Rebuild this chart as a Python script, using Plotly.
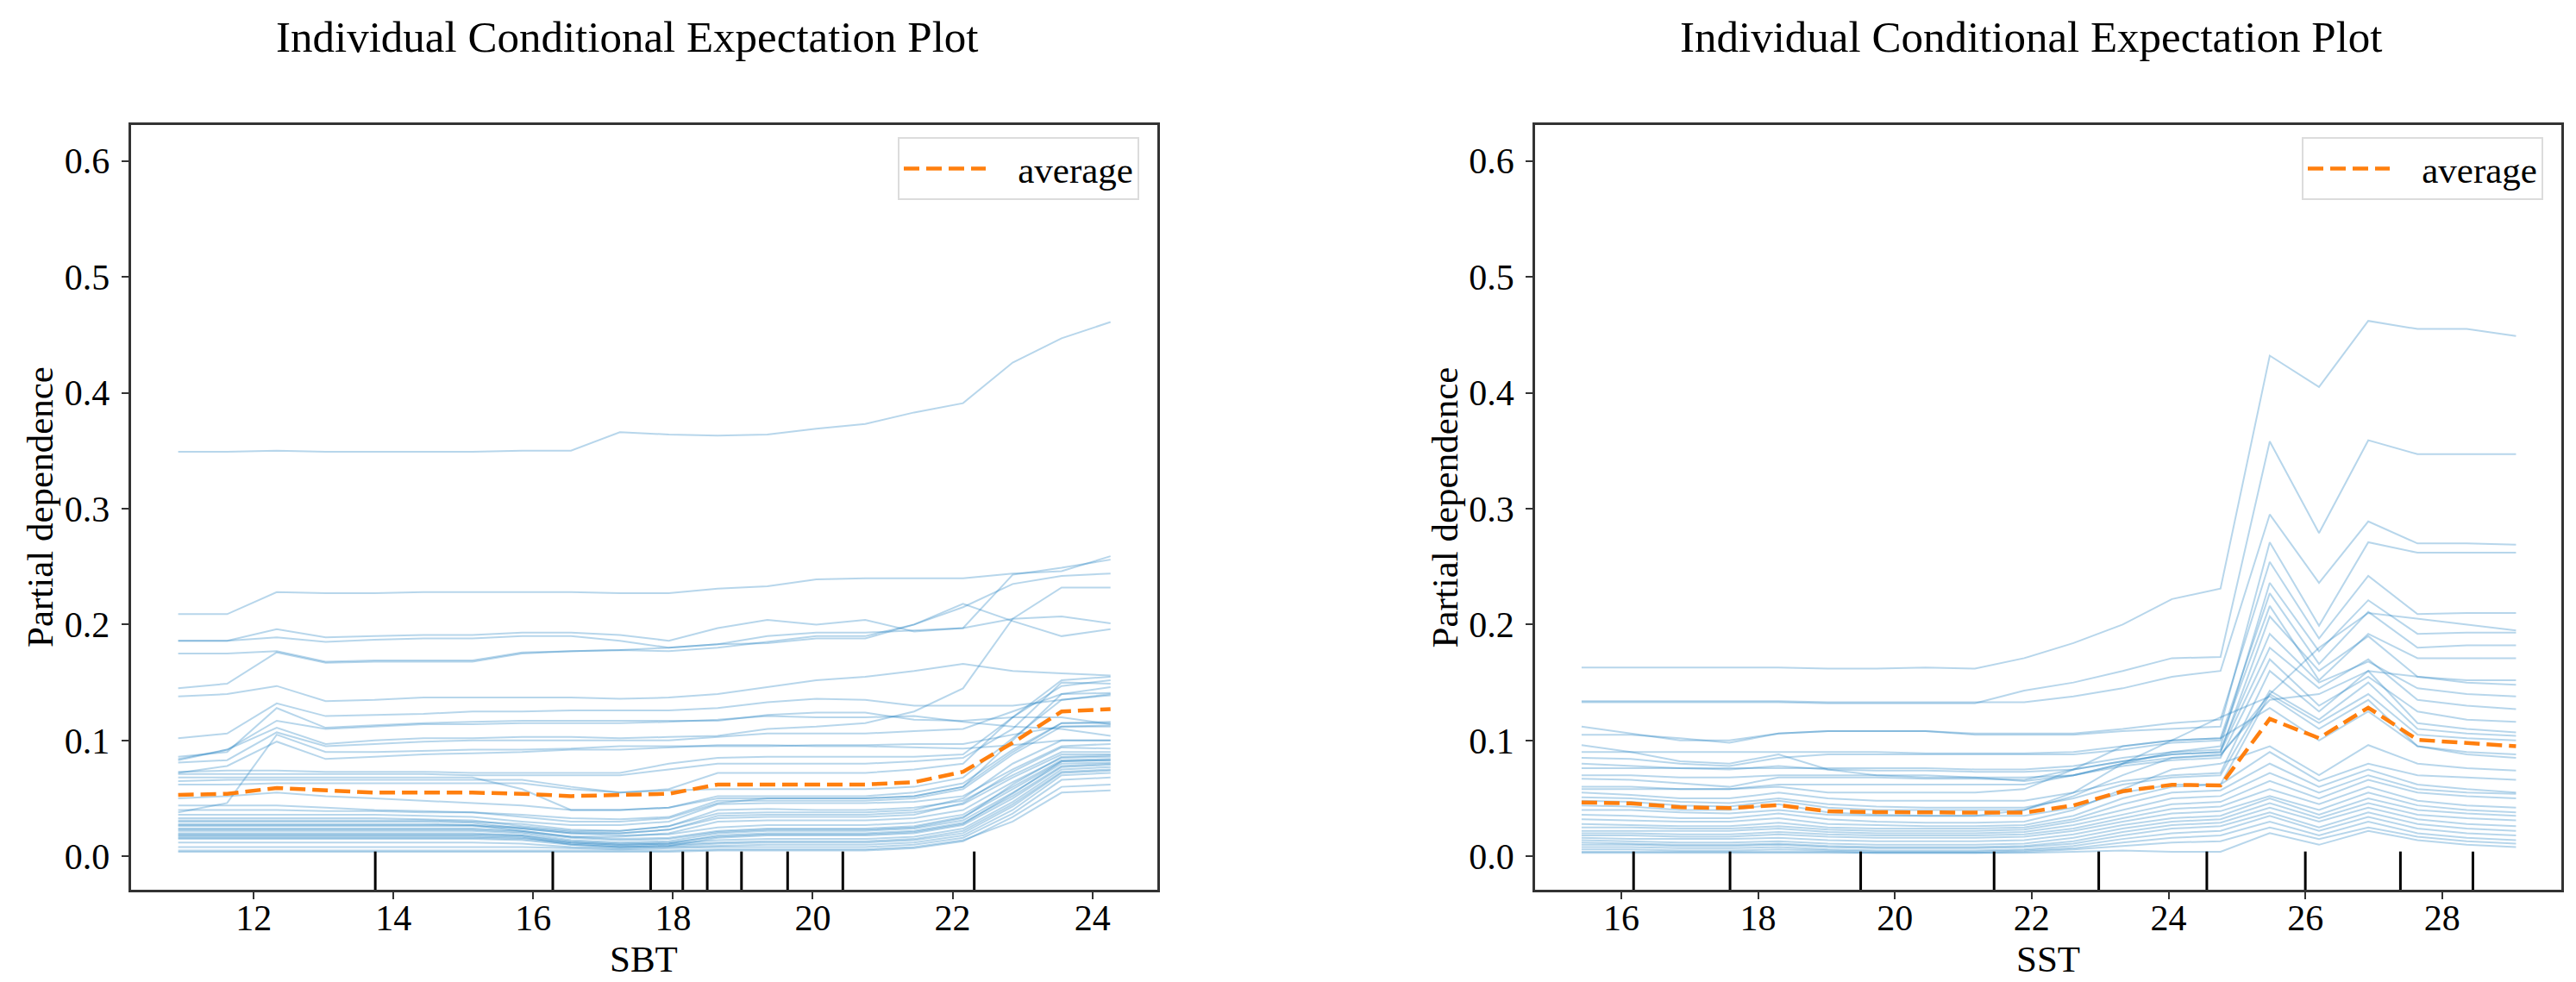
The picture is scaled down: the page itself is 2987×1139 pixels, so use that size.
import plotly.graph_objects as go

# ---------------- data ----------------
sbt_grid = [10.92, 11.62, 12.33, 13.03, 13.73, 14.43, 15.13, 15.84, 16.54, 17.24,
            17.94, 18.64, 19.35, 20.05, 20.75, 21.45, 22.15, 22.86, 23.56, 24.26]

sbt_average = [0.053, 0.054, 0.059, 0.057, 0.055, 0.055, 0.055, 0.054, 0.052, 0.053,
               0.054, 0.062, 0.062, 0.062, 0.062, 0.064, 0.073, 0.098, 0.125, 0.127]

sbt_ice_top = [
    [0.349, 0.349, 0.350, 0.349, 0.349, 0.349, 0.349, 0.350, 0.350, 0.366, 0.364, 0.363, 0.364, 0.369, 0.373, 0.383, 0.391, 0.426, 0.447, 0.461],
    [0.209, 0.209, 0.228, 0.227, 0.227, 0.228, 0.228, 0.228, 0.228, 0.227, 0.227, 0.231, 0.233, 0.239, 0.240, 0.240, 0.240, 0.244, 0.246, 0.259],
    [0.186, 0.186, 0.196, 0.189, 0.190, 0.191, 0.191, 0.193, 0.193, 0.191, 0.186, 0.197, 0.204, 0.200, 0.204, 0.194, 0.197, 0.205, 0.207, 0.201],
    [0.186, 0.186, 0.189, 0.185, 0.187, 0.188, 0.188, 0.190, 0.190, 0.186, 0.180, 0.183, 0.184, 0.188, 0.188, 0.200, 0.218, 0.203, 0.190, 0.196],
    [0.175, 0.175, 0.177, 0.168, 0.169, 0.169, 0.169, 0.176, 0.177, 0.178, 0.180, 0.183, 0.190, 0.193, 0.193, 0.195, 0.197, 0.243, 0.249, 0.256],
    [0.145, 0.149, 0.176, 0.167, 0.168, 0.168, 0.168, 0.175, 0.177, 0.178, 0.177, 0.180, 0.185, 0.190, 0.190, 0.200, 0.215, 0.235, 0.242, 0.244],
]

sbt_ice_mid = [
    [0.102, 0.106, 0.132, 0.121, 0.122, 0.123, 0.125, 0.125, 0.126, 0.126, 0.126, 0.128, 0.133, 0.136, 0.135, 0.130, 0.130, 0.130, 0.135, 0.140],
    [0.086, 0.090, 0.128, 0.111, 0.113, 0.115, 0.116, 0.117, 0.117, 0.117, 0.117, 0.117, 0.122, 0.124, 0.124, 0.118, 0.117, 0.120, 0.120, 0.114],
    [0.084, 0.092, 0.117, 0.110, 0.112, 0.114, 0.114, 0.115, 0.115, 0.115, 0.116, 0.118, 0.121, 0.120, 0.120, 0.121, 0.116, 0.112, 0.110, 0.104],
    [0.083, 0.092, 0.111, 0.097, 0.100, 0.102, 0.102, 0.103, 0.103, 0.102, 0.103, 0.104, 0.110, 0.112, 0.115, 0.125, 0.145, 0.205, 0.232, 0.232],
    [0.081, 0.083, 0.107, 0.095, 0.097, 0.099, 0.100, 0.100, 0.100, 0.100, 0.100, 0.103, 0.106, 0.106, 0.106, 0.108, 0.110, 0.125, 0.140, 0.146],
    [0.072, 0.078, 0.099, 0.084, 0.086, 0.088, 0.089, 0.090, 0.092, 0.092, 0.094, 0.096, 0.096, 0.095, 0.095, 0.094, 0.093, 0.096, 0.100, 0.100],
    [0.138, 0.140, 0.147, 0.134, 0.135, 0.137, 0.137, 0.137, 0.137, 0.136, 0.137, 0.140, 0.146, 0.152, 0.155, 0.160, 0.166, 0.160, 0.158, 0.156],
    [0.038, 0.046, 0.105, 0.090, 0.090, 0.091, 0.092, 0.092, 0.093, 0.095, 0.095, 0.095, 0.095, 0.096, 0.096, 0.097, 0.097, 0.105, 0.112, 0.112],
    [0.050, 0.052, 0.055, 0.052, 0.050, 0.048, 0.046, 0.044, 0.040, 0.040, 0.042, 0.052, 0.052, 0.052, 0.052, 0.055, 0.063, 0.092, 0.115, 0.116],
    [0.065, 0.066, 0.066, 0.066, 0.066, 0.066, 0.066, 0.066, 0.060, 0.055, 0.057, 0.058, 0.058, 0.058, 0.058, 0.060, 0.068, 0.102, 0.135, 0.139],
    [0.068, 0.068, 0.068, 0.068, 0.068, 0.068, 0.068, 0.058, 0.040, 0.040, 0.042, 0.050, 0.050, 0.050, 0.050, 0.052, 0.060, 0.100, 0.140, 0.141],
    [0.071, 0.071, 0.071, 0.071, 0.071, 0.071, 0.070, 0.070, 0.070, 0.070, 0.075, 0.080, 0.080, 0.080, 0.080, 0.082, 0.085, 0.110, 0.150, 0.149],
    [0.062, 0.062, 0.063, 0.063, 0.063, 0.063, 0.063, 0.063, 0.058, 0.055, 0.058, 0.072, 0.072, 0.072, 0.072, 0.075, 0.080, 0.120, 0.152, 0.155],
    [0.073, 0.074, 0.074, 0.073, 0.073, 0.073, 0.072, 0.072, 0.072, 0.072, 0.080, 0.085, 0.086, 0.086, 0.086, 0.086, 0.088, 0.120, 0.147, 0.152],
]

sbt_ice_low = [
    [0.036, 0.036, 0.036, 0.036, 0.036, 0.035, 0.034, 0.030, 0.027, 0.027, 0.030, 0.045, 0.046, 0.046, 0.046, 0.047, 0.052, 0.075, 0.095, 0.097],
    [0.033, 0.033, 0.033, 0.033, 0.033, 0.032, 0.031, 0.026, 0.022, 0.022, 0.026, 0.040, 0.041, 0.040, 0.040, 0.042, 0.048, 0.070, 0.090, 0.090],
    [0.030, 0.030, 0.030, 0.030, 0.030, 0.030, 0.029, 0.024, 0.020, 0.020, 0.023, 0.035, 0.036, 0.036, 0.036, 0.038, 0.045, 0.068, 0.088, 0.088],
    [0.028, 0.028, 0.028, 0.028, 0.028, 0.028, 0.027, 0.022, 0.017, 0.017, 0.020, 0.030, 0.031, 0.031, 0.031, 0.033, 0.040, 0.064, 0.085, 0.086],
    [0.026, 0.026, 0.026, 0.026, 0.026, 0.026, 0.026, 0.024, 0.020, 0.018, 0.019, 0.025, 0.027, 0.027, 0.027, 0.029, 0.036, 0.060, 0.083, 0.084],
    [0.024, 0.024, 0.024, 0.024, 0.024, 0.024, 0.024, 0.022, 0.017, 0.015, 0.016, 0.022, 0.024, 0.024, 0.024, 0.026, 0.034, 0.058, 0.082, 0.083],
    [0.022, 0.022, 0.022, 0.022, 0.022, 0.022, 0.022, 0.020, 0.014, 0.012, 0.013, 0.020, 0.022, 0.022, 0.022, 0.024, 0.031, 0.055, 0.080, 0.081],
    [0.020, 0.020, 0.020, 0.020, 0.020, 0.020, 0.020, 0.018, 0.012, 0.010, 0.011, 0.018, 0.020, 0.020, 0.020, 0.022, 0.029, 0.052, 0.078, 0.080],
    [0.018, 0.018, 0.018, 0.018, 0.018, 0.018, 0.018, 0.017, 0.010, 0.008, 0.009, 0.016, 0.018, 0.018, 0.018, 0.020, 0.027, 0.050, 0.077, 0.079],
    [0.017, 0.017, 0.017, 0.017, 0.017, 0.017, 0.017, 0.016, 0.012, 0.010, 0.011, 0.014, 0.015, 0.015, 0.015, 0.017, 0.024, 0.047, 0.075, 0.077],
    [0.016, 0.016, 0.016, 0.016, 0.016, 0.016, 0.016, 0.015, 0.011, 0.009, 0.010, 0.012, 0.013, 0.013, 0.013, 0.015, 0.022, 0.045, 0.073, 0.075],
    [0.015, 0.015, 0.015, 0.015, 0.015, 0.015, 0.015, 0.014, 0.010, 0.008, 0.009, 0.011, 0.012, 0.012, 0.012, 0.014, 0.020, 0.043, 0.072, 0.074],
    [0.012, 0.012, 0.012, 0.012, 0.012, 0.012, 0.012, 0.011, 0.008, 0.007, 0.008, 0.009, 0.010, 0.010, 0.010, 0.012, 0.018, 0.040, 0.070, 0.072],
    [0.008, 0.008, 0.008, 0.008, 0.008, 0.008, 0.008, 0.008, 0.007, 0.006, 0.007, 0.008, 0.008, 0.008, 0.008, 0.010, 0.016, 0.037, 0.066, 0.068],
    [0.005, 0.005, 0.005, 0.005, 0.005, 0.005, 0.005, 0.005, 0.005, 0.005, 0.005, 0.006, 0.006, 0.006, 0.006, 0.008, 0.014, 0.030, 0.055, 0.057],
    [0.004, 0.004, 0.004, 0.004, 0.004, 0.004, 0.004, 0.004, 0.004, 0.004, 0.004, 0.005, 0.005, 0.005, 0.005, 0.007, 0.013, 0.034, 0.060, 0.062],
    [0.040, 0.040, 0.040, 0.039, 0.039, 0.038, 0.038, 0.036, 0.033, 0.032, 0.034, 0.048, 0.048, 0.048, 0.048, 0.050, 0.058, 0.088, 0.112, 0.113],
    [0.044, 0.044, 0.044, 0.042, 0.040, 0.039, 0.038, 0.034, 0.030, 0.030, 0.033, 0.046, 0.050, 0.050, 0.050, 0.052, 0.060, 0.090, 0.115, 0.115],
    [0.031, 0.031, 0.031, 0.031, 0.031, 0.031, 0.030, 0.028, 0.023, 0.022, 0.026, 0.037, 0.038, 0.038, 0.038, 0.040, 0.050, 0.080, 0.100, 0.100],
    [0.027, 0.027, 0.027, 0.027, 0.027, 0.027, 0.027, 0.025, 0.021, 0.020, 0.023, 0.033, 0.034, 0.034, 0.034, 0.036, 0.046, 0.073, 0.094, 0.093],
    [0.023, 0.023, 0.023, 0.023, 0.023, 0.023, 0.023, 0.021, 0.016, 0.014, 0.015, 0.021, 0.023, 0.023, 0.023, 0.025, 0.033, 0.062, 0.086, 0.087],
    [0.019, 0.019, 0.019, 0.019, 0.019, 0.019, 0.019, 0.018, 0.013, 0.011, 0.012, 0.017, 0.019, 0.019, 0.019, 0.021, 0.028, 0.054, 0.082, 0.083],
]

sbt_deciles = [13.74, 16.28, 17.68, 18.14, 18.49, 18.98, 19.64, 20.43, 22.31]

sst_grid = [15.42, 16.14, 16.86, 17.58, 18.30, 19.02, 19.73, 20.45, 21.17, 21.89,
            22.61, 23.33, 24.05, 24.76, 25.48, 26.20, 26.92, 27.64, 28.36, 29.08]

sst_average = [0.0465, 0.0457, 0.0424, 0.0416, 0.0443, 0.0388, 0.0382, 0.0377, 0.0377, 0.0377,
               0.0440, 0.0562, 0.0618, 0.0612, 0.1186, 0.1020, 0.1283, 0.1006, 0.0978, 0.0950]

sst_ice_top = [
    [0.163, 0.163, 0.163, 0.163, 0.163, 0.162, 0.162, 0.163, 0.162, 0.171, 0.184, 0.200, 0.222, 0.231, 0.432, 0.405, 0.462, 0.455, 0.455, 0.449],
    [0.133, 0.133, 0.133, 0.133, 0.133, 0.132, 0.132, 0.132, 0.132, 0.143, 0.150, 0.160, 0.171, 0.172, 0.358, 0.279, 0.359, 0.347, 0.347, 0.347],
    [0.134, 0.134, 0.134, 0.134, 0.134, 0.133, 0.133, 0.133, 0.133, 0.133, 0.138, 0.145, 0.155, 0.160, 0.295, 0.236, 0.289, 0.270, 0.270, 0.269],
    [0.112, 0.106, 0.100, 0.100, 0.106, 0.108, 0.108, 0.108, 0.105, 0.105, 0.105, 0.108, 0.110, 0.112, 0.271, 0.199, 0.271, 0.262, 0.262, 0.262],
    [0.105, 0.105, 0.102, 0.098, 0.106, 0.108, 0.108, 0.108, 0.106, 0.106, 0.106, 0.110, 0.115, 0.118, 0.254, 0.188, 0.242, 0.209, 0.210, 0.210],
]

sst_ice_mid = [
    [0.096, 0.090, 0.082, 0.080, 0.088, 0.075, 0.070, 0.068, 0.068, 0.068, 0.070, 0.080, 0.090, 0.095, 0.236, 0.177, 0.221, 0.192, 0.193, 0.193],
    [0.090, 0.090, 0.090, 0.090, 0.090, 0.090, 0.090, 0.089, 0.089, 0.089, 0.090, 0.095, 0.100, 0.102, 0.227, 0.166, 0.211, 0.180, 0.182, 0.182],
    [0.085, 0.084, 0.080, 0.078, 0.085, 0.088, 0.088, 0.088, 0.088, 0.088, 0.088, 0.092, 0.098, 0.100, 0.216, 0.152, 0.192, 0.171, 0.171, 0.171],
    [0.080, 0.078, 0.076, 0.075, 0.078, 0.075, 0.074, 0.074, 0.073, 0.073, 0.075, 0.082, 0.088, 0.090, 0.207, 0.160, 0.190, 0.155, 0.152, 0.152],
    [0.076, 0.076, 0.076, 0.076, 0.076, 0.076, 0.076, 0.076, 0.075, 0.075, 0.078, 0.085, 0.090, 0.092, 0.192, 0.150, 0.168, 0.145, 0.140, 0.138],
    [0.067, 0.066, 0.063, 0.060, 0.068, 0.068, 0.068, 0.067, 0.067, 0.066, 0.075, 0.082, 0.088, 0.090, 0.180, 0.145, 0.170, 0.135, 0.130, 0.127],
    [0.060, 0.060, 0.058, 0.058, 0.062, 0.062, 0.062, 0.062, 0.062, 0.062, 0.070, 0.078, 0.083, 0.085, 0.170, 0.130, 0.155, 0.125, 0.118, 0.116],
    [0.055, 0.053, 0.050, 0.050, 0.055, 0.050, 0.048, 0.048, 0.048, 0.048, 0.055, 0.065, 0.070, 0.072, 0.160, 0.125, 0.160, 0.115, 0.110, 0.107],
    [0.051, 0.050, 0.047, 0.046, 0.050, 0.045, 0.043, 0.042, 0.042, 0.042, 0.050, 0.062, 0.068, 0.070, 0.143, 0.118, 0.150, 0.110, 0.106, 0.104],
    [0.044, 0.043, 0.040, 0.040, 0.045, 0.038, 0.036, 0.035, 0.035, 0.035, 0.042, 0.055, 0.062, 0.062, 0.140, 0.115, 0.140, 0.105, 0.102, 0.100],
    [0.040, 0.040, 0.038, 0.037, 0.040, 0.036, 0.035, 0.035, 0.035, 0.040, 0.055, 0.080, 0.100, 0.120, 0.138, 0.110, 0.135, 0.095, 0.088, 0.085],
    [0.058, 0.058, 0.058, 0.058, 0.060, 0.055, 0.055, 0.055, 0.055, 0.058, 0.075, 0.095, 0.100, 0.102, 0.128, 0.100, 0.125, 0.095, 0.090, 0.088],
    [0.048, 0.047, 0.044, 0.043, 0.048, 0.042, 0.040, 0.040, 0.040, 0.040, 0.052, 0.070, 0.085, 0.088, 0.135, 0.140, 0.160, 0.155, 0.150, 0.148],
    [0.070, 0.070, 0.068, 0.068, 0.070, 0.070, 0.070, 0.070, 0.068, 0.065, 0.070, 0.080, 0.085, 0.087, 0.140, 0.180, 0.210, 0.205, 0.200, 0.195],
]

sst_ice_low = [
    [0.036, 0.035, 0.033, 0.033, 0.037, 0.032, 0.030, 0.029, 0.029, 0.030, 0.040, 0.058, 0.075, 0.080, 0.095, 0.070, 0.096, 0.080, 0.076, 0.074],
    [0.032, 0.031, 0.030, 0.030, 0.033, 0.028, 0.027, 0.026, 0.026, 0.027, 0.035, 0.050, 0.060, 0.062, 0.090, 0.065, 0.080, 0.070, 0.068, 0.066],
    [0.028, 0.027, 0.026, 0.026, 0.029, 0.025, 0.024, 0.024, 0.024, 0.025, 0.032, 0.045, 0.055, 0.057, 0.080, 0.060, 0.075, 0.062, 0.058, 0.055],
    [0.025, 0.025, 0.024, 0.024, 0.026, 0.023, 0.022, 0.022, 0.022, 0.023, 0.030, 0.040, 0.050, 0.052, 0.072, 0.055, 0.070, 0.058, 0.055, 0.054],
    [0.022, 0.022, 0.022, 0.022, 0.024, 0.021, 0.020, 0.020, 0.020, 0.021, 0.027, 0.036, 0.045, 0.047, 0.065, 0.050, 0.066, 0.055, 0.052, 0.050],
    [0.020, 0.020, 0.019, 0.019, 0.021, 0.019, 0.018, 0.018, 0.018, 0.019, 0.024, 0.033, 0.041, 0.043, 0.058, 0.045, 0.060, 0.048, 0.044, 0.042],
    [0.018, 0.018, 0.017, 0.017, 0.019, 0.017, 0.016, 0.016, 0.016, 0.017, 0.022, 0.030, 0.037, 0.039, 0.052, 0.040, 0.055, 0.044, 0.040, 0.038],
    [0.016, 0.015, 0.015, 0.015, 0.016, 0.014, 0.013, 0.013, 0.013, 0.014, 0.019, 0.027, 0.033, 0.035, 0.050, 0.036, 0.050, 0.040, 0.037, 0.035],
    [0.014, 0.013, 0.012, 0.012, 0.013, 0.011, 0.010, 0.010, 0.010, 0.011, 0.016, 0.024, 0.030, 0.032, 0.046, 0.033, 0.046, 0.036, 0.033, 0.031],
    [0.012, 0.011, 0.010, 0.010, 0.011, 0.009, 0.008, 0.008, 0.008, 0.009, 0.013, 0.021, 0.027, 0.029, 0.042, 0.030, 0.042, 0.032, 0.028, 0.026],
    [0.010, 0.010, 0.009, 0.009, 0.010, 0.008, 0.007, 0.007, 0.007, 0.008, 0.011, 0.018, 0.024, 0.026, 0.038, 0.025, 0.038, 0.028, 0.024, 0.022],
    [0.008, 0.008, 0.007, 0.007, 0.008, 0.006, 0.005, 0.005, 0.005, 0.006, 0.009, 0.015, 0.020, 0.022, 0.035, 0.022, 0.034, 0.024, 0.020, 0.018],
    [0.006, 0.006, 0.005, 0.005, 0.006, 0.005, 0.004, 0.004, 0.004, 0.005, 0.007, 0.012, 0.016, 0.018, 0.030, 0.018, 0.030, 0.020, 0.016, 0.014],
    [0.004, 0.004, 0.004, 0.004, 0.004, 0.004, 0.003, 0.003, 0.003, 0.004, 0.006, 0.009, 0.012, 0.013, 0.025, 0.015, 0.025, 0.017, 0.013, 0.011],
    [0.003, 0.003, 0.003, 0.003, 0.003, 0.003, 0.003, 0.003, 0.003, 0.003, 0.004, 0.005, 0.004, 0.004, 0.020, 0.010, 0.022, 0.014, 0.010, 0.008],
]

sst_deciles = [16.18, 17.59, 19.50, 21.45, 22.98, 24.56, 26.00, 27.39, 28.45]

sbt_xticks = [12, 14, 16, 18, 20, 22, 24]
sst_xticks = [16, 18, 20, 22, 24, 26, 28]
y_ticks = [0.0, 0.1, 0.2, 0.3, 0.4, 0.5, 0.6]

titles = ["Individual Conditional Expectation Plot", "Individual Conditional Expectation Plot"]
x_labels = ["SBT", "SST"]
y_label = "Partial dependence"
avg_name = "average"

# ---------------- styling / layout ----------------
W, H = 2987, 1139
FONT = "Liberation Serif, Times New Roman, serif"
ICE_COLOR = "rgba(31,128,192,0.32)"
AVG_COLOR = "#ff7f0e"
SPINE = "#333333"

ax_px = [(143.5, 1334.0), (1772.0, 2961.8)]   # pixel x of the two axes
ax_top, ax_bot = 137.0, 1024.0
x_ranges = [[10.24, 24.93], [14.74, 29.74]]
y_range = [-0.0288, 0.631]

fig = go.Figure()

panels = [
    (sbt_grid, sbt_ice_top + sbt_ice_mid + sbt_ice_low, sbt_average, sbt_deciles, sbt_xticks),
    (sst_grid, sst_ice_top + sst_ice_mid + sst_ice_low, sst_average, sst_deciles, sst_xticks),
]

shapes = []
annotations = []
for i, (grid, ice, avg, dec, xt) in enumerate(panels):
    xa = "x" if i == 0 else "x2"
    ya = "y" if i == 0 else "y2"
    leg = "legend" if i == 0 else "legend2"
    for line in ice:
        fig.add_trace(go.Scatter(x=grid, y=line, mode="lines", xaxis=xa, yaxis=ya,
                                 line=dict(color=ICE_COLOR, width=2.0),
                                 showlegend=False, hoverinfo="skip"))
    fig.add_trace(go.Scatter(x=grid, y=avg, mode="lines", xaxis=xa, yaxis=ya,
                             name="\u00a0\u00a0\u00a0" + avg_name, legend=leg,
                             line=dict(color=AVG_COLOR, width=4.5, dash="18px,8px")))
    for d in dec:
        shapes.append(dict(type="line", xref=xa, yref=ya + " domain", x0=d, x1=d, y0=0, y1=0.05,
                           line=dict(color="black", width=3)))

    x0, x1 = ax_px[i]
    dom = [x0 / W, x1 / W]
    axis_common = dict(showline=True, mirror=True, linecolor=SPINE, linewidth=2.5,
                       ticks="outside", ticklen=8, tickwidth=2, tickcolor=SPINE,
                       showgrid=False, zeroline=False,
                       tickfont=dict(family=FONT, size=42, color="black"))
    fig.layout["xaxis" if i == 0 else "xaxis2"] = dict(
        domain=dom, anchor=ya, range=x_ranges[i], tickvals=xt,
        ticklabelstandoff=-14, **axis_common)
    fig.layout["yaxis" if i == 0 else "yaxis2"] = dict(
        domain=[1 - ax_bot / H, 1 - ax_top / H], anchor=xa, range=y_range,
        tickvals=y_ticks, tickformat=".1f", ticklabelstandoff=5, **axis_common)

    cx = (x0 + x1) / 2
    annotations.append(dict(text=titles[i], x=(cx - 20) / W, y=1 - 35 / H, xref="paper", yref="paper",
                            xanchor="center", yanchor="middle", showarrow=False,
                            font=dict(family=FONT, size=51, color="black")))
    annotations.append(dict(text=x_labels[i], x=cx / W, y=1 - 1104 / H, xref="paper", yref="paper",
                            xanchor="center", yanchor="middle", showarrow=False,
                            font=dict(family=FONT, size=43, color="black")))
    annotations.append(dict(text=y_label, x=(x0 - 105) / W, y=1 - (ax_top + ax_bot) / 2 / H,
                            xref="paper", yref="paper", xanchor="center", yanchor="middle",
                            textangle=-90, showarrow=False,
                            font=dict(family=FONT, size=43, color="black")))

legend_common = dict(xanchor="right", yanchor="top", bgcolor="white", bordercolor="#dcdcdc",
                     borderwidth=2, font=dict(family=FONT, size=43, color="black"),
                     itemwidth=95)

fig.update_layout(
    width=W, height=H, autosize=False,
    margin=dict(l=0, r=0, t=0, b=0),
    paper_bgcolor="white", plot_bgcolor="white",
    shapes=shapes, annotations=annotations,
    legend=dict(x=1313 / W, y=1 - 151 / H, **legend_common),
    legend2=dict(x=2941 / W, y=1 - 151 / H, **legend_common),
)

fig.write_html("out.html")
